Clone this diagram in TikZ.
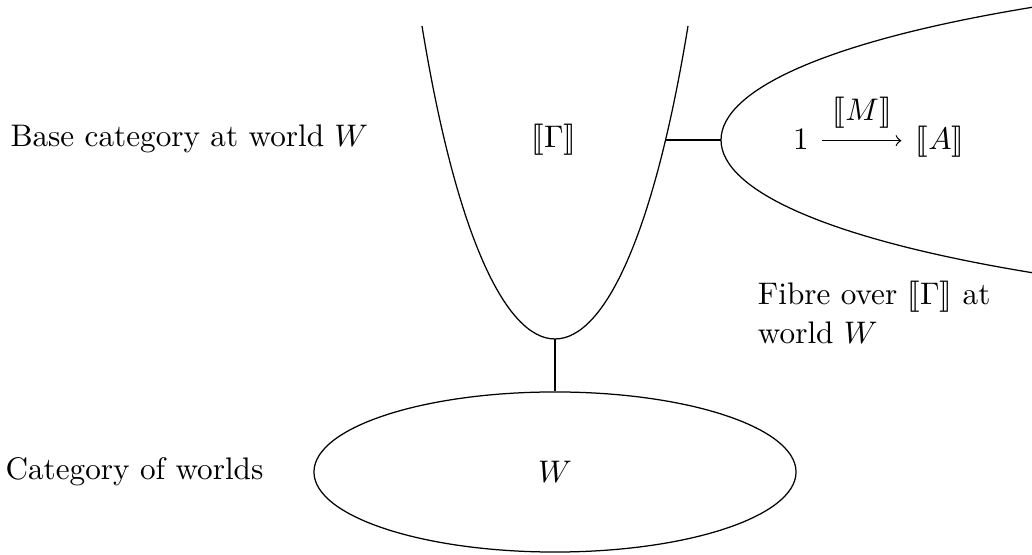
\documentclass[tikz,border=0pt]{standalone}
\usepackage{amsmath}
\usepackage{stmaryrd}
\usetikzlibrary{shapes.geometric}
\begin{document}
\begin{tikzpicture}[x=0.3205pt,y=-0.3205pt,
  lbl/.style={inner sep=0pt, outer sep=0pt},
  obj/.style={inner sep=0pt, outer sep=0pt, text height=8pt, text depth=2pt, anchor=base},
  outline/.style={draw, line width=0.4pt},
  link/.style={draw, line width=0.4pt},
  morphism/.style={draw, line width=0.4pt, ->}]
\useasboundingbox (0,0) rectangle (1032,555);
% base category (parabola-like curve)
\draw[outline] (422,26) .. controls (490,443.3) and (620,443.3) .. (688,26) coordinate[pos=0.5] (pv);
% fibre (same curve, lying on its side)
\draw[outline] (1034,7) .. controls (616.7,75) and (616.7,205) .. (1034,273) coordinate[pos=0.5] (fv);
% category of worlds
\node[outline, ellipse, minimum width=154.5pt, minimum height=51.3pt, inner sep=0pt] (worlds) at (555,472) {$W$};
% connectors
\coordinate (pr) at (666,140);
\draw[link] (pv) -- (worlds.north);
\draw[link] (pr) -- (fv);
% labels
\node[lbl, anchor=base west] (baselbl) at (10.5,147) {Base category at world $W$};
\node[lbl, anchor=base west] (worldslbl) at (5.6,480) {Category of worlds};
\node[lbl] (gamma) at (554,140) {$\llbracket\Gamma\rrbracket$};
% morphism inside the fibre
\node[obj] (one) at (801,150) {$1$};
\node[obj] (A) at (940,150) {$\llbracket A\rrbracket$};
\draw[morphism, shorten <=4.2pt, shorten >=4.6pt] (one.east) -- node[above, inner sep=3.8pt] (M) {$\llbracket M\rrbracket$} (A.west);
\node[lbl, anchor=base west, align=left] (fibrelbl) at (758,344) {Fibre over $\llbracket\Gamma\rrbracket$ at\\[0.5pt] world $W$};
\end{tikzpicture}
\end{document}
